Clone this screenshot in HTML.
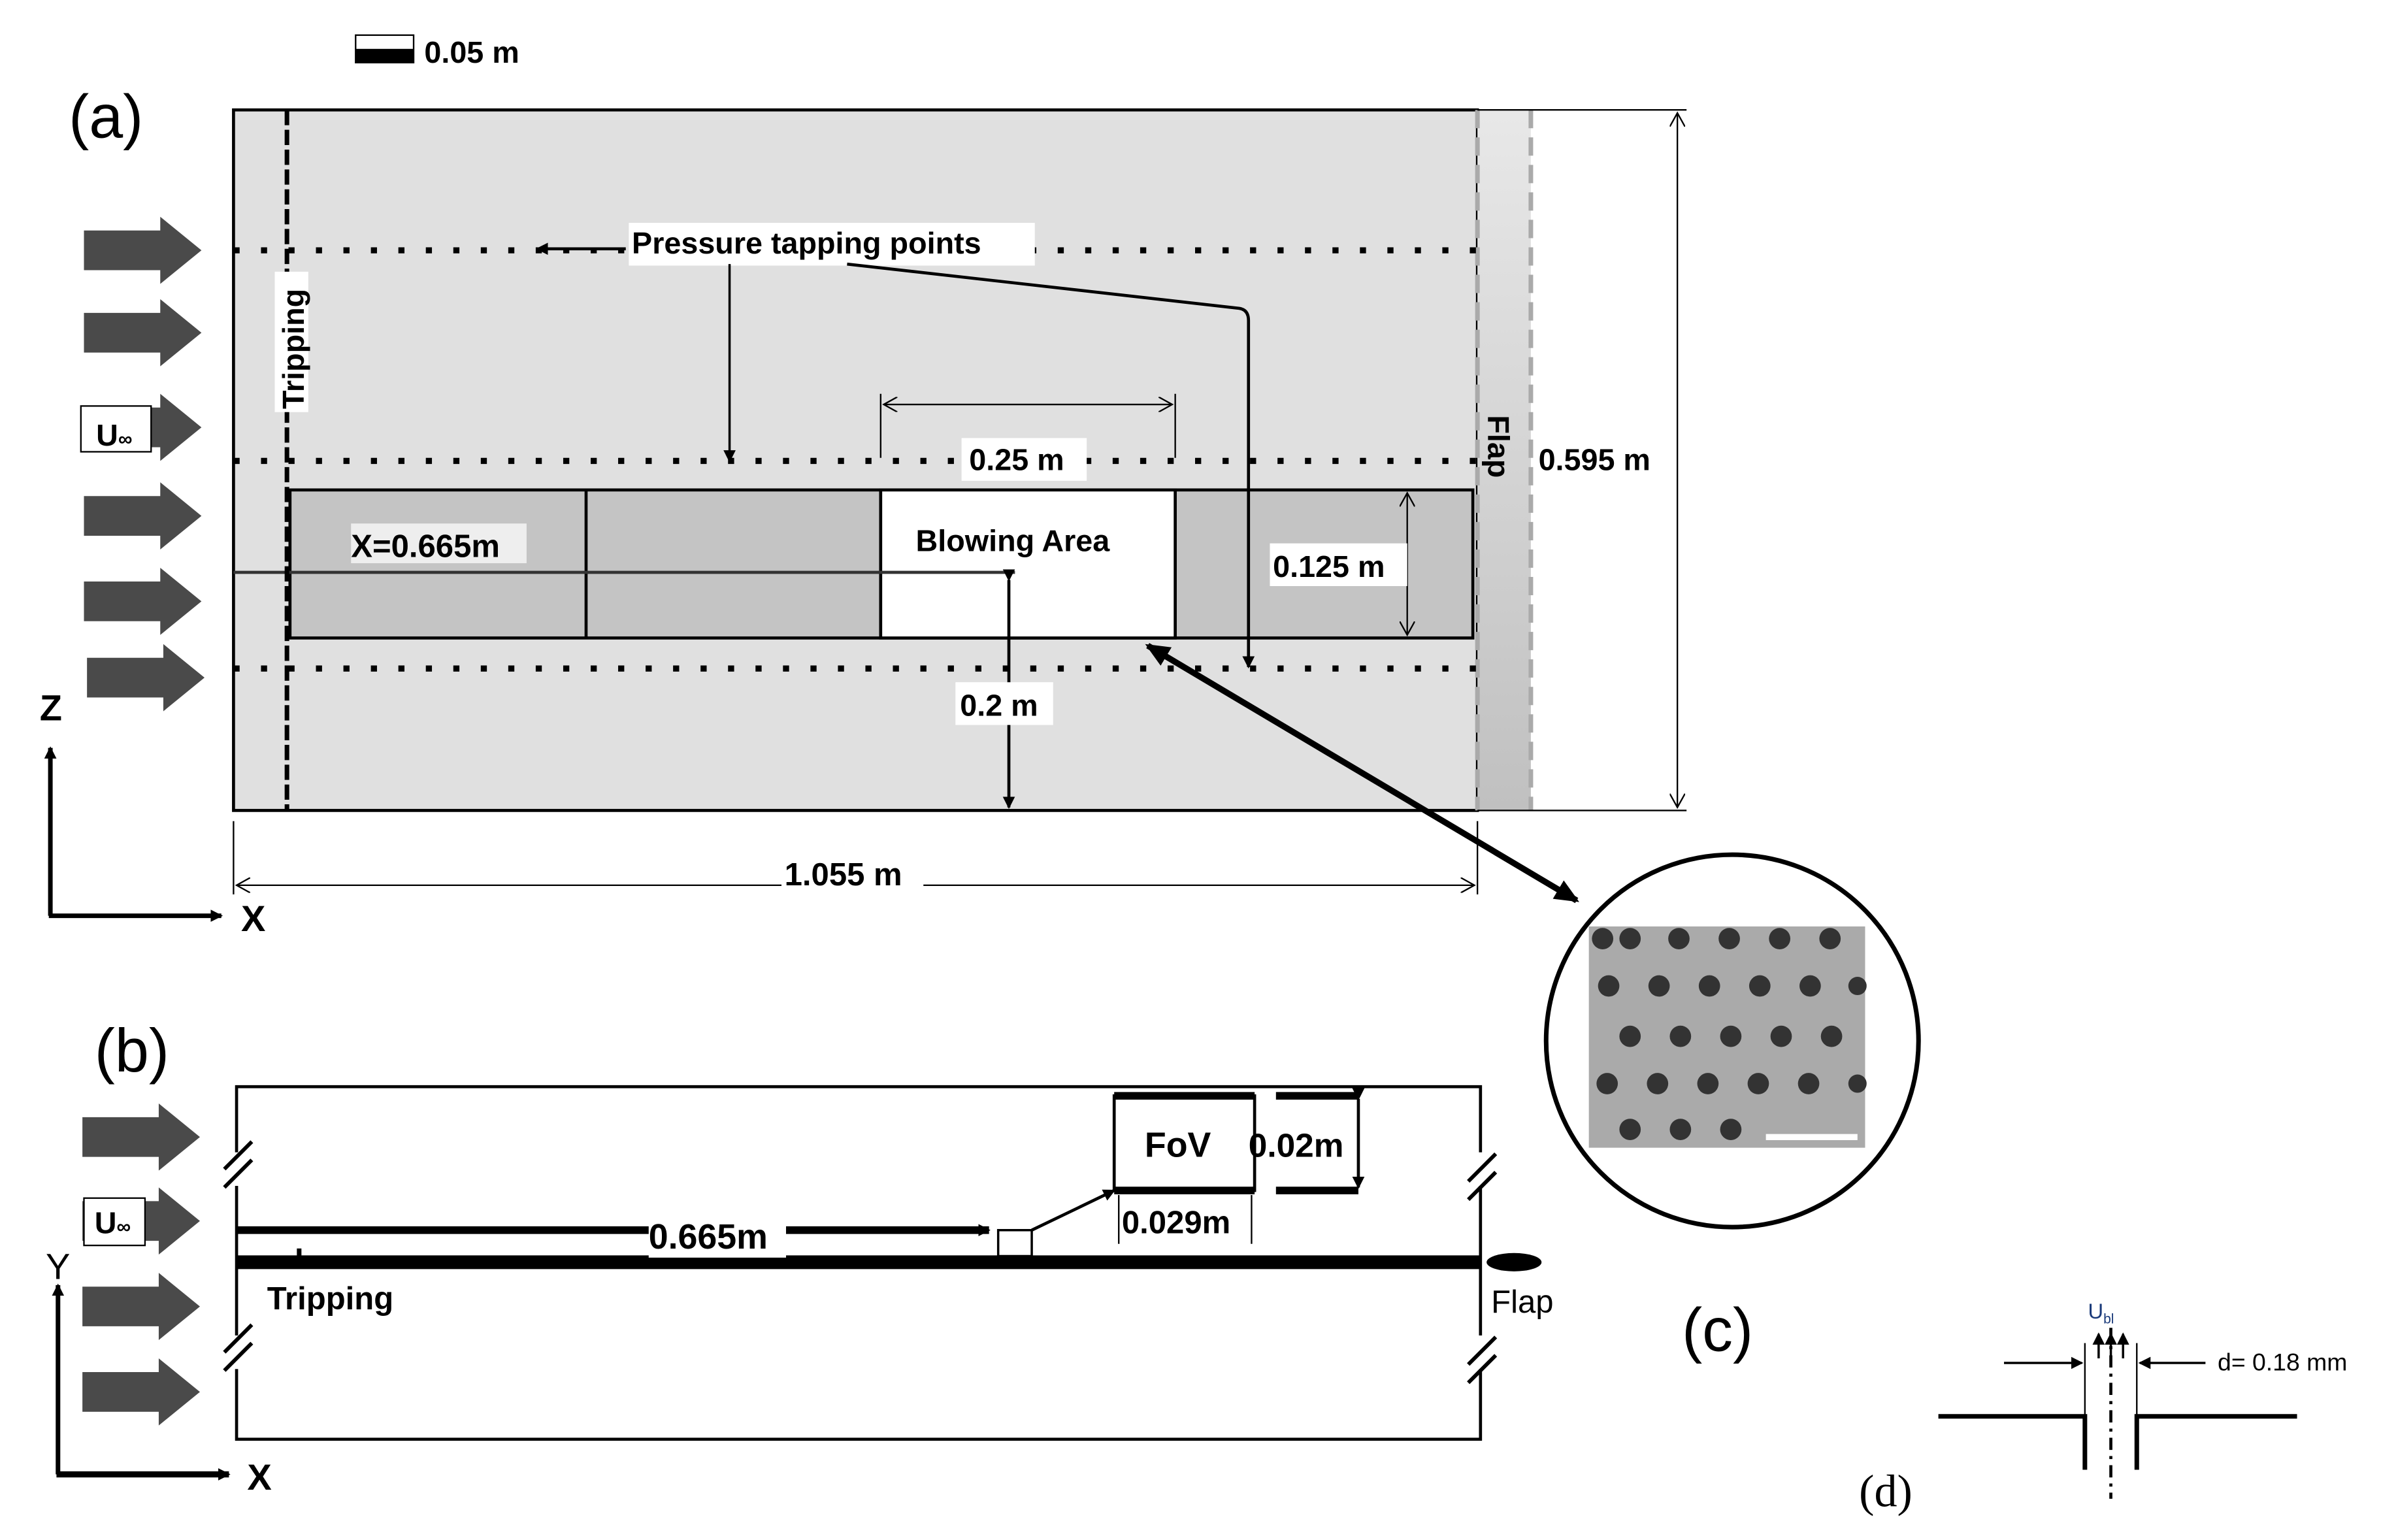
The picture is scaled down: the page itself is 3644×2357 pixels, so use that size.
<!DOCTYPE html>
<html><head><style>html,body{margin:0;padding:0;background:#fff}svg{display:block}</style></head><body>
<svg xmlns="http://www.w3.org/2000/svg" width="3644" height="2357" viewBox="0 0 1560 1009" font-family="Liberation Sans, sans-serif">
<defs>
<marker id="ah" markerWidth="8" markerHeight="8" refX="7" refY="4" orient="auto" markerUnits="userSpaceOnUse"><path d="M0,0 L8,4 L0,8 z" fill="#000"/></marker>
<marker id="ao" markerWidth="10" markerHeight="10" refX="9" refY="5" orient="auto-start-reverse" markerUnits="userSpaceOnUse"><path d="M0,0 L9,5 L0,10" fill="none" stroke="#000" stroke-width="1"/></marker>
<marker id="ab" markerWidth="16" markerHeight="14" refX="14" refY="7" orient="auto-start-reverse" markerUnits="userSpaceOnUse"><path d="M0,0 L16,7 L0,14 z" fill="#000"/></marker>
<linearGradient id="fg" x1="0" x2="0" y1="0" y2="1"><stop offset="0" stop-color="#e8e8e8"/><stop offset="1" stop-color="#c0c0c0"/></linearGradient>
<g id="fa"><path d="M0,-13 H50 V-22 L77,0 L50,22 V13 H0 z" fill="#4a4a4a"/></g>
</defs>
<!-- scale bar -->
<rect x="233" y="23" width="38" height="18" fill="#fff" stroke="#000"/><rect x="233" y="32" width="38" height="9" fill="#000"/>
<text x="278" y="41" font-size="20" font-weight="bold">0.05 m</text>
<text x="45" y="90" font-size="40">(a)</text>
<!-- panel a -->
<rect x="153" y="72" width="815" height="459" fill="#e0e0e0" stroke="#000" stroke-width="2"/>
<rect x="968" y="72" width="35" height="459" fill="url(#fg)"/>
<line x1="1003" y1="72" x2="1003" y2="531" stroke="#aaa" stroke-width="3" stroke-dasharray="12,6"/>
<line x1="968" y1="72" x2="968" y2="531" stroke="#aaa" stroke-width="3" stroke-dasharray="12,6"/>
<line x1="968" y1="72" x2="1105" y2="72" stroke="#000"/><line x1="968" y1="531" x2="1105" y2="531" stroke="#000"/>
<line x1="1099" y1="74" x2="1099" y2="529" stroke="#000" marker-start="url(#ao)" marker-end="url(#ao)"/>
<rect x="1006" y="287" width="92" height="28" fill="#fff"/>
<text x="1008" y="308" font-size="20" font-weight="bold">0.595 m</text>
<text x="0" y="0" font-size="20" font-weight="bold" transform="translate(975,272) rotate(90)">Flap</text>
<rect x="190" y="321" width="775" height="97" fill="#c4c4c4" stroke="#000" stroke-width="2"/>
<rect x="577" y="321" width="193" height="97" fill="#fff" stroke="#000" stroke-width="2"/>
<line x1="384" y1="321" x2="384" y2="418" stroke="#000" stroke-width="2"/>
<line x1="153" y1="375" x2="665" y2="375" stroke="#333" stroke-width="2"/>
<g stroke="#000" stroke-width="4" stroke-dasharray="4,14">
<line x1="153" y1="164" x2="968" y2="164"/><line x1="153" y1="302" x2="968" y2="302"/><line x1="153" y1="438" x2="968" y2="438"/></g>
<line x1="188" y1="72" x2="188" y2="531" stroke="#000" stroke-width="3" stroke-dasharray="10,3"/>
<rect x="180" y="178" width="22" height="92" fill="#fff"/>
<text font-size="20" font-weight="bold" transform="translate(199,268) rotate(-90)">Tripping</text>
<rect x="230" y="343" width="115" height="26" fill="#eee"/>
<text x="230" y="365" font-size="21" font-weight="bold">X=0.665m</text>
<text x="600" y="361" font-size="20" font-weight="bold">Blowing Area</text>
<line x1="577" y1="258" x2="577" y2="300" stroke="#000"/><line x1="770" y1="258" x2="770" y2="300" stroke="#000"/>
<line x1="579" y1="265" x2="768" y2="265" stroke="#000" marker-start="url(#ao)" marker-end="url(#ao)"/>
<rect x="630" y="287" width="82" height="28" fill="#fff"/>
<text x="635" y="308" font-size="20" font-weight="bold">0.25 m</text>
<line x1="922" y1="323" x2="922" y2="416" stroke="#000" marker-start="url(#ao)" marker-end="url(#ao)"/>
<rect x="832" y="356" width="90" height="28" fill="#fff"/>
<text x="834" y="378" font-size="20" font-weight="bold">0.125 m</text>
<line x1="661" y1="380" x2="661" y2="529" stroke="#000" stroke-width="2" marker-start="url(#ah)" marker-end="url(#ah)"/>
<rect x="626" y="447" width="64" height="28" fill="#fff"/>
<text x="629" y="469" font-size="20" font-weight="bold">0.2 m</text>
<line x1="153" y1="538" x2="153" y2="586" stroke="#000"/><line x1="968" y1="538" x2="968" y2="586" stroke="#000"/>
<line x1="155" y1="580" x2="966" y2="580" stroke="#000" marker-start="url(#ao)" marker-end="url(#ao)"/>
<rect x="512" y="560" width="93" height="26" fill="#fff"/>
<text x="514" y="580" font-size="21" font-weight="bold">1.055 m</text>
<!-- pressure tapping -->
<rect x="412" y="146" width="266" height="28" fill="#fff"/>
<text x="414" y="166" font-size="20" font-weight="bold">Pressure tapping points</text>
<line x1="410" y1="163" x2="352" y2="163" stroke="#000" stroke-width="2" marker-end="url(#ah)"/>
<line x1="478" y1="173" x2="478" y2="302" stroke="#000" stroke-width="1.5" marker-end="url(#ah)"/>
<path d="M555,173 L812,202 Q818,203 818,210 L818,437" fill="none" stroke="#000" stroke-width="2" marker-end="url(#ah)"/>
<line x1="752" y1="423" x2="1033" y2="590" stroke="#000" stroke-width="4" marker-start="url(#ab)" marker-end="url(#ab)"/>
<!-- flow arrows a -->
<use href="#fa" x="55" y="164"/><use href="#fa" x="55" y="218"/><use href="#fa" x="55" y="280"/><use href="#fa" x="55" y="338"/><use href="#fa" x="55" y="394"/><use href="#fa" x="57" y="444"/>
<rect x="53" y="266" width="46" height="30" fill="#fff" stroke="#000"/>
<text x="63" y="292" font-size="20" font-weight="bold">U<tspan font-size="13">∞</tspan></text>
<text x="26" y="472" font-size="24" font-weight="bold">Z</text>
<line x1="33" y1="600" x2="33" y2="490" stroke="#000" stroke-width="3" marker-end="url(#ah)"/>
<line x1="32" y1="600" x2="145" y2="600" stroke="#000" stroke-width="3" marker-end="url(#ah)"/>
<text x="158" y="610" font-size="24" font-weight="bold">X</text>
<!-- circle c -->
<circle cx="1135" cy="682" r="122" fill="#fff" stroke="#000" stroke-width="3"/>
<rect x="1041" y="607" width="181" height="145" fill="#aaa"/>
<g fill="#333">
<circle cx="1050" cy="615" r="7"/><circle cx="1068" cy="615" r="7"/><circle cx="1100" cy="615" r="7"/><circle cx="1133" cy="615" r="7"/><circle cx="1166" cy="615" r="7"/><circle cx="1199" cy="615" r="7"/>
<circle cx="1054" cy="646" r="7"/><circle cx="1087" cy="646" r="7"/><circle cx="1120" cy="646" r="7"/><circle cx="1153" cy="646" r="7"/><circle cx="1186" cy="646" r="7"/><circle cx="1217" cy="646" r="6"/>
<circle cx="1068" cy="679" r="7"/><circle cx="1101" cy="679" r="7"/><circle cx="1134" cy="679" r="7"/><circle cx="1167" cy="679" r="7"/><circle cx="1200" cy="679" r="7"/>
<circle cx="1053" cy="710" r="7"/><circle cx="1086" cy="710" r="7"/><circle cx="1119" cy="710" r="7"/><circle cx="1152" cy="710" r="7"/><circle cx="1185" cy="710" r="7"/><circle cx="1217" cy="710" r="6"/>
<circle cx="1068" cy="740" r="7"/><circle cx="1101" cy="740" r="7"/><circle cx="1134" cy="740" r="7"/></g>
<rect x="1157" y="743" width="60" height="4" fill="#fff"/>
<!-- panel b -->
<text x="62" y="702" font-size="40">(b)</text>
<rect x="155" y="712" width="815" height="231" fill="#fff" stroke="#000" stroke-width="2"/>
<line x1="155" y1="827" x2="970" y2="827" stroke="#000" stroke-width="9"/>
<ellipse cx="992" cy="827" rx="18" ry="6" fill="#000"/>
<line x1="196" y1="818" x2="196" y2="824" stroke="#000" stroke-width="3"/>
<line x1="155" y1="806" x2="648" y2="806" stroke="#000" stroke-width="5" marker-end="url(#ah)"/>
<rect x="425" y="797" width="90" height="27" fill="#fff"/>
<text x="425" y="818" font-size="23" font-weight="bold">0.665m</text>
<rect x="654" y="806" width="22" height="17" fill="#fff" stroke="#000" stroke-width="1.5"/>
<line x1="676" y1="806" x2="730" y2="780" stroke="#000" stroke-width="2" marker-end="url(#ah)"/>
<rect x="730" y="718" width="92" height="62" fill="#fff" stroke="#000" stroke-width="2"/>
<line x1="730" y1="718" x2="822" y2="718" stroke="#000" stroke-width="5"/><line x1="730" y1="780" x2="822" y2="780" stroke="#000" stroke-width="5"/>
<text x="750" y="758" font-size="23" font-weight="bold">FoV</text>
<line x1="836" y1="718" x2="890" y2="718" stroke="#000" stroke-width="5"/><line x1="836" y1="780" x2="890" y2="780" stroke="#000" stroke-width="5"/>
<line x1="890" y1="720" x2="890" y2="778" stroke="#000" stroke-width="2" marker-start="url(#ah)" marker-end="url(#ah)"/>
<text x="818" y="758" font-size="22" font-weight="bold">0.02m</text>
<line x1="733" y1="783" x2="733" y2="815" stroke="#000"/><line x1="820" y1="783" x2="820" y2="815" stroke="#000"/>
<text x="735" y="808" font-size="21" font-weight="bold">0.029m</text>
<text x="175" y="858" font-size="21" font-weight="bold">Tripping</text>
<text x="977" y="860" font-size="21">Flap</text>
<g stroke="#000" stroke-width="2.5" fill="#fff">
<rect x="148" y="755" width="12" height="22" stroke="none"/><path d="M147,766 L165,748 M147,778 L165,760"/>
<rect x="148" y="875" width="12" height="22" stroke="none"/><path d="M147,886 L165,868 M147,898 L165,880"/>
<rect x="963" y="755" width="12" height="22" stroke="none"/><path d="M962,774 L980,756 M962,786 L980,768"/>
<rect x="963" y="875" width="12" height="22" stroke="none"/><path d="M962,894 L980,876 M962,906 L980,888"/></g>
<use href="#fa" x="54" y="745"/><use href="#fa" x="54" y="800"/><use href="#fa" x="54" y="856"/><use href="#fa" x="54" y="912"/>
<rect x="55" y="785" width="40" height="31" fill="#fff" stroke="#000"/>
<text x="62" y="808" font-size="20" font-weight="bold">U<tspan font-size="13">∞</tspan></text>
<text x="30" y="838" font-size="24">Y</text>
<line x1="38" y1="966" x2="38" y2="842" stroke="#000" stroke-width="3" marker-end="url(#ah)"/>
<line x1="37" y1="966" x2="150" y2="966" stroke="#000" stroke-width="4" marker-end="url(#ah)"/>
<text x="162" y="976" font-size="24" font-weight="bold">X</text>
<!-- c, d -->
<text x="1102" y="885" font-size="40">(c)</text>
<path d="M1270,928 H1366 V963 M1400,963 V928 H1505" fill="none" stroke="#000" stroke-width="3"/>
<line x1="1383" y1="870" x2="1383" y2="982" stroke="#000" stroke-width="2" stroke-dasharray="8,4,2,4"/>
<line x1="1366" y1="880" x2="1366" y2="928" stroke="#000" stroke-width="1"/><line x1="1400" y1="880" x2="1400" y2="928" stroke="#000" stroke-width="1"/>
<g stroke="#000" stroke-width="1.5"><line x1="1375" y1="890" x2="1375" y2="874" marker-end="url(#ah)"/><line x1="1383" y1="890" x2="1383" y2="874" marker-end="url(#ah)"/><line x1="1391" y1="890" x2="1391" y2="874" marker-end="url(#ah)"/></g>
<text x="1368" y="864" font-size="14" fill="#1a3a7a">U<tspan font-size="9" dy="3">bl</tspan></text>
<line x1="1313" y1="893" x2="1364" y2="893" stroke="#000" stroke-width="1.5" marker-end="url(#ah)"/>
<line x1="1445" y1="893" x2="1402" y2="893" stroke="#000" stroke-width="1.5" marker-end="url(#ah)"/>
<text x="1453" y="898" font-size="16">d= 0.18 mm</text>
<text x="1218" y="987" font-family="Liberation Serif, serif" font-size="30">(d)</text>
</svg>
</body></html>
